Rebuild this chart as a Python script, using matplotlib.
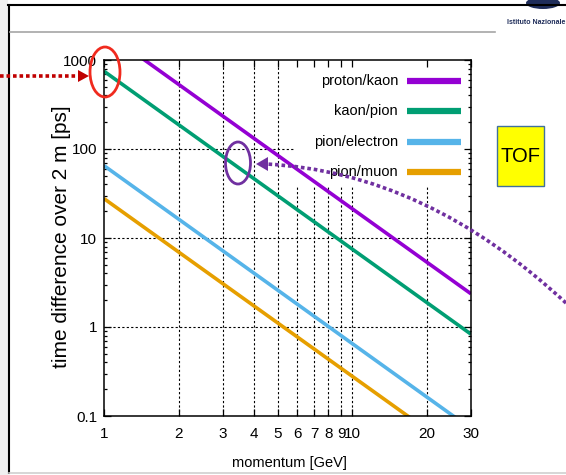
import matplotlib
matplotlib.use("Agg")
import matplotlib.pyplot as plt
from matplotlib import font_manager
from matplotlib.patches import Ellipse, Rectangle, Polygon, PathPatch
from matplotlib.path import Path
from matplotlib.lines import Line2D
from matplotlib.ticker import FixedLocator, FixedFormatter, NullLocator, LogLocator, NullFormatter

W, H = 566, 475

# momentum [GeV] at both ends of the plotted range, time difference [ps] read there
momentum = [1, 30]
proton_kaon = [2120, 2.36]
kaon_pion = [748, 0.83]
pion_electron = [65, 0.072]
pion_muon = [27.7, 0.031]
labels = ["proton/kaon", "kaon/pion", "pion/electron", "pion/muon"]
colors = ["#9400d3", "#009e73", "#56b4e9", "#e69f00"]
x_ticks = [1, 2, 3, 4, 5, 6, 7, 8, 9, 10, 20, 30]
y_ticks = [0.1, 1, 10, 100, 1000]
y_ticklabels = ["0.1", "1", "10", "100", "1000"]


def has_font(name):
    try:
        font_manager.findfont(font_manager.FontProperties(family=name), fallback_to_default=False)
        return True
    except ValueError:
        return False


narrow = "Liberation Sans Narrow" if has_font("Liberation Sans Narrow") else "Liberation Sans"
plt.rcParams["font.family"] = [narrow, "DejaVu Sans"]


def px(x, y):
    # slide pixel (from top-left) -> figure fraction
    return (x / W, 1 - y / H)


fig = plt.figure(figsize=(W / 100, H / 100), dpi=100)
ax = fig.add_axes([104 / W, 1 - 416 / H, 367 / W, 356 / H])
ax.set_xscale("log")
ax.set_yscale("log")
ax.set_xlim(1, 30)
ax.set_ylim(0.1, 1000)

ax.xaxis.set_major_locator(FixedLocator(x_ticks))
ax.xaxis.set_major_formatter(FixedFormatter([str(v) for v in x_ticks]))
ax.xaxis.set_minor_locator(NullLocator())
ax.yaxis.set_major_locator(FixedLocator(y_ticks))
ax.yaxis.set_major_formatter(FixedFormatter(y_ticklabels))
ax.yaxis.set_minor_locator(LogLocator(base=10, subs=range(2, 10)))
ax.yaxis.set_minor_formatter(NullFormatter())
ax.tick_params(which="both", direction="in", top=True, right=True, width=0.9)
ax.tick_params(which="major", length=5, labelsize=11)
ax.tick_params(which="minor", length=2.5)
ax.tick_params(axis="x", pad=8)
ax.tick_params(axis="y", pad=5)
for s in ax.spines.values():
    s.set_linewidth(1.1)

# grid by hand so the key box hides it but not the ticks
for v in x_ticks[1:-1]:
    ax.axvline(v, color="k", lw=0.8, ls=(0, (2, 2)), zorder=0.8)
for v in y_ticks[1:-1]:
    ax.axhline(v, color="k", lw=0.8, ls=(0, (2, 2)), zorder=0.8)
ax.add_patch(Rectangle((0.52, 0.643), 0.47, 0.351, transform=ax.transAxes,
                       fc="white", ec="none", zorder=0.9))

series = [proton_kaon, kaon_pion, pion_electron, pion_muon]
for vals, c in zip(series, colors):
    ax.plot(momentum, vals, color=c, lw=2.6, solid_capstyle="butt", zorder=2)

# key
for i, (lab, c) in enumerate(zip(labels, colors)):
    y = 0.941 - i * 0.085
    ax.text(0.801, y, lab, transform=ax.transAxes, ha="right", va="center",
            fontsize=10.5, zorder=3)
    ax.add_line(Line2D([0.826, 0.973], [y, y], transform=ax.transAxes,
                       color=c, lw=4.5, solid_capstyle="butt", zorder=3))

fig.text(*px(289, 463), "momentum [GeV]", ha="center", va="center", fontsize=10.5)
fig.text(*px(62, 237), "time difference over 2 m [ps]", ha="center", va="center",
         rotation=90, fontsize=15, family=["Liberation Sans", "DejaVu Sans"])

# slide frame
fig.add_artist(Rectangle((0, 0), 8 / W, 1, transform=fig.transFigure, fc="#f0f0f0", ec="none"))
fig.add_artist(Ellipse(px(543, 3), 34 / W, 12 / H, transform=fig.transFigure, fc="#1f2d5a", ec="none"))
fig.add_artist(Line2D([8 / W, 1], [1 - 5 / H] * 2, color="k", lw=1.5))
fig.add_artist(Line2D([9 / W] * 2, [1 - 5 / H, 1 - 473 / H], color="k", lw=1.5))
fig.add_artist(Line2D([10 / W, 495 / W], [1 - 32 / H] * 2, color="#a6a6a6", lw=1.2))
fig.add_artist(Line2D([9 / W, 1], [1 - 473 / H] * 2, color="#d0d0d0", lw=1.2))
fig.text(*px(565, 23), "Istituto Nazionale", fontsize=5, weight="bold", color="#1f2d5a",
         ha="right", va="center")

# red marker at 1 GeV
fig.add_artist(Ellipse(px(105, 72), 30 / W, 50 / H, transform=fig.transFigure,
                       fill=False, ec="#f02a1e", lw=2))
fig.add_artist(Line2D([0, 79 / W], [1 - 76 / H] * 2, color="#c00000", lw=2.6,
                      ls=(0, (1, 0.8)), solid_capstyle="butt"))
fig.add_artist(Polygon([px(89, 76), px(78, 70), px(78, 82)], closed=True,
                       transform=fig.transFigure, fc="#c00000", ec="none"))

# purple marker and curved arrow
fig.add_artist(Ellipse(px(238, 163), 25 / W, 42 / H, transform=fig.transFigure,
                       fill=False, ec="#7030a0", lw=2))
curve = Path([px(566, 303), px(425, 172), px(266, 164)], [Path.MOVETO, Path.CURVE3, Path.CURVE3])
fig.add_artist(PathPatch(curve, transform=fig.transFigure, fill=False, ec="#7030a0",
                         lw=2.6, ls=(0, (1, 0.8))))
fig.add_artist(Polygon([px(256, 164), px(268, 157), px(268, 171)], closed=True,
                       transform=fig.transFigure, fc="#7030a0", ec="none"))

# TOF box
fig.add_artist(Rectangle(px(497, 186), 47 / W, 60 / H, transform=fig.transFigure,
                         fc="#ffff00", ec="#41719c", lw=1))
fig.text(*px(520.5, 157), "TOF", ha="center", va="center", fontsize=14.5)

fig.savefig("out.png", dpi=100)
